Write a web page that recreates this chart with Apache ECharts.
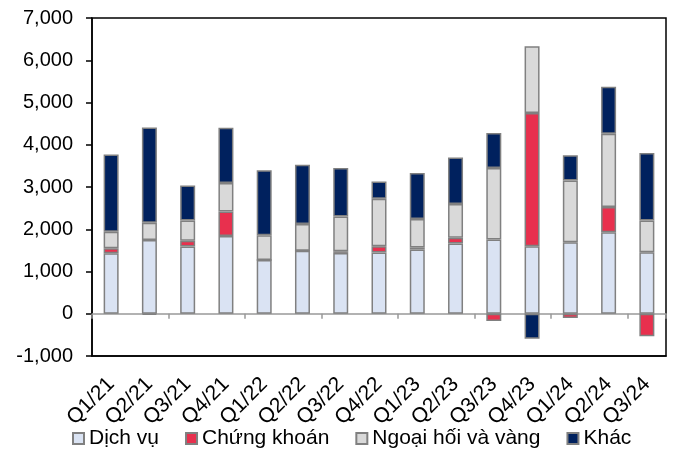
<!DOCTYPE html>
<html>
<head>
<meta charset="utf-8">
<script src="https://cdn.jsdelivr.net/npm/echarts@6/dist/echarts.min.js"></script>
<style>
    html, body { margin: 0; padding: 0; background: #fff; }
    #container { width: 673px; height: 457px; }
</style>
</head>
<body>
<div id="container"></div>
<script>
    "use strict";
    // dữ liệu
    var quarters = ['Q1/21', 'Q2/21', 'Q3/21', 'Q4/21', 'Q1/22', 'Q2/22', 'Q3/22', 'Q4/22',
        'Q1/23', 'Q2/23', 'Q3/23', 'Q4/23', 'Q1/24', 'Q2/24', 'Q3/24'];
    var dichVu = [1430, 1745, 1590, 1840, 1270, 1490, 1440, 1450, 1520, 1665, 1760, 1600, 1690, 1930, 1455];
    var chungKhoan = [120, -25, 140, 580, 0, 0, 40, 150, 50, 135, -170, 3150, -100, 595, -535];
    var ngoaiHoi = [390, 410, 475, 675, 590, 635, 820, 1120, 675, 800, 1690, 1580, 1465, 1735, 750];
    var khac = [1830, 2255, 830, 1305, 1535, 1400, 1150, 410, 1085, 1100, 830, -590, 595, 1115, 1600];
    var yTicks = { min: -1000, max: 7000, step: 1000 };

    var fontName = 'Liberation Sans, Arial, sans-serif';

    function makeSeries(name, data, color) {
        return {
            name: name,
            type: 'bar',
            stack: 'total',
            barWidth: 15,
            xAxisIndex: 0,
            data: data,
            itemStyle: {
                color: color,
                borderColor: '#808080',
                borderWidth: 1.5
            }
        };
    }

    var chart = echarts.init(document.getElementById('container'));
    var option = {
        animation: false,
        grid: {
            left: 92,
            right: 7,
            top: 18,
            bottom: 101,
            show: true,
            borderColor: '#000',
            borderWidth: 1.5
        },
        legend: {
            bottom: 3,
            left: 67,
            itemGap: 26,
            itemWidth: 11,
            itemHeight: 11,
            icon: 'rect',
            textStyle: { fontFamily: fontName, fontSize: 21, color: '#000' },
            data: ['Dịch vụ', 'Chứng khoán', 'Ngoại hối và vàng', 'Khác']
        },
        xAxis: [
            {
                type: 'category',
                data: quarters,
                axisLine: { onZero: true, lineStyle: { color: '#999', width: 1.5 } },
                axisTick: { show: true, length: 5, lineStyle: { color: '#999', width: 1.5 } },
                axisLabel: { show: false }
            },
            {
                type: 'category',
                data: quarters,
                position: 'bottom',
                axisLine: { onZero: false, lineStyle: { color: '#000', width: 1.5 } },
                axisTick: { show: false },
                axisLabel: {
                    rotate: 45,
                    interval: 0,
                    margin: 25,
                    fontFamily: fontName,
                    fontSize: 21,
                    color: '#000'
                }
            }
        ],
        yAxis: {
            type: 'value',
            min: yTicks.min,
            max: yTicks.max,
            interval: yTicks.step,
            axisLine: { show: true, lineStyle: { color: '#000', width: 1.5 } },
            axisTick: { show: true, length: 6, lineStyle: { color: '#000', width: 1.5 } },
            splitLine: { show: false },
            axisLabel: {
                margin: 19,
                fontFamily: fontName,
                fontSize: 20,
                color: '#000',
                formatter: function (v) {
                    return v.toLocaleString('en-US');
                }
            }
        },
        series: [
            makeSeries('Dịch vụ', dichVu, '#dae3f3'),
            makeSeries('Chứng khoán', chungKhoan, '#e8304e'),
            makeSeries('Ngoại hối và vàng', ngoaiHoi, '#d9d9d9'),
            makeSeries('Khác', khac, '#00215e')
        ]
    };
    chart.setOption(option);
</script>
</body>
</html>
